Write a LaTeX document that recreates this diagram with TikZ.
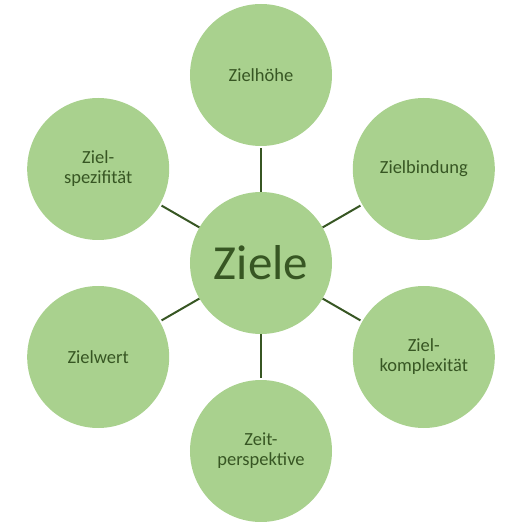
\documentclass[tikz,border=0pt]{standalone}
\usepackage{fontspec}
\setmainfont{Carlito}
\usetikzlibrary{calc}
\definecolor{zielgruen}{HTML}{A9D18E}
\definecolor{zieldunkel}{HTML}{375623}

\begin{document}
\begin{tikzpicture}[
    kreis/.style={circle, fill=zielgruen, minimum size=142pt, inner sep=0pt,
      align=center, text=zieldunkel, font=\fontsize{18.5}{20}\selectfont},
    verbindung/.style={draw=zieldunkel, line width=2pt, shorten >=2pt}]
      \useasboundingbox (-261pt,-259pt) rectangle (259pt,263pt);

      \node[kreis, font=\fontsize{49}{56}\selectfont] (ziele) at (0,0) {Ziele};
      \node[kreis] (hoehe) at ($(ziele)+(90:188pt)$) {Zielhöhe};
      \node[kreis] (bindung) at ($(ziele)+(30:188pt)$) {Zielbindung};
      \node[kreis] (komplex) at ($(ziele)+(-30:188pt)$) {Ziel-\\komplexität};
      \node[kreis] (zeit) at ($(ziele)+(-90:188pt)$) {Zeit-\\perspektive};
      \node[kreis] (wert) at ($(ziele)+(210:188pt)$) {Zielwert};
      \node[kreis] (spez) at ($(ziele)+(150:188pt)$) {Ziel-\\spezifität};

      \path[verbindung] (ziele) edge (hoehe);
      \path[verbindung] (ziele) edge (bindung);
      \path[verbindung] (ziele) edge (komplex);
      \path[verbindung] (ziele) edge (zeit);
      \path[verbindung] (ziele) edge (wert);
      \path[verbindung] (ziele) edge (spez);
\end{tikzpicture}
\end{document}
